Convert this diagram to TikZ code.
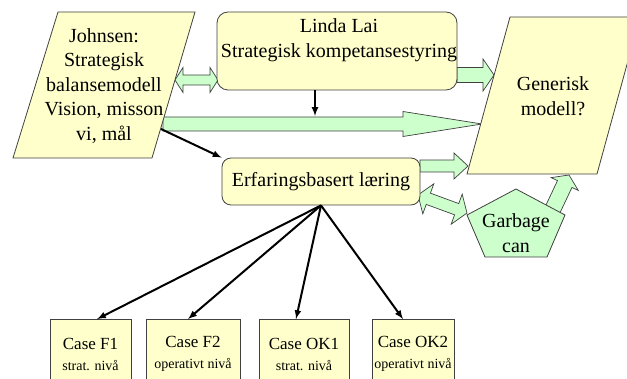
\documentclass[tikz,border=0pt]{standalone}
\usepackage{fontspec}
\setmainfont{Liberation Serif}
\usetikzlibrary{calc}
\definecolor{paleyellow}{RGB}{255,255,204}
\definecolor{palegreen}{RGB}{204,255,204}
\newcommand{\casesub}{\fontsize{14}{16}\selectfont}
% from, to, shaft half width, head half width, head length
\newcommand{\greenarrow}[5]{%
  \coordinate (ba) at ($(#2)!#5!(#1)$);
  \draw[garrow] ($(#1)!#3!90:(#2)$) -- ($(ba)!#3!90:(#2)$) -- ($(ba)!#4!90:(#2)$) -- (#2)
    -- ($(ba)!#4!-90:(#2)$) -- ($(ba)!#3!-90:(#2)$) -- ($(#1)!#3!-90:(#2)$) -- cycle;}
\newcommand{\greendblarrow}[5]{%
  \coordinate (ba) at ($(#2)!#5!(#1)$);
  \coordinate (bb) at ($(#1)!#5!(#2)$);
  \draw[garrow] (#1) -- ($(bb)!#4!90:(#2)$) -- ($(bb)!#3!90:(#2)$) -- ($(ba)!#3!90:(#2)$)
    -- ($(ba)!#4!90:(#2)$) -- (#2) -- ($(ba)!#4!-90:(#2)$) -- ($(ba)!#3!-90:(#2)$)
    -- ($(bb)!#3!-90:(#2)$) -- ($(bb)!#4!-90:(#2)$) -- cycle;}
\begin{document}
\begin{tikzpicture}[x=1pt,y=-1pt,
    font=\fontsize{20}{24.5}\selectfont,
    ybox/.style={draw=black!75,line width=0.8pt,fill=paleyellow},
    rbox/.style={ybox,rounded corners=11pt,inner sep=0pt},
    cbox/.style={ybox,minimum height=69pt,inner sep=0pt,align=center,font=\fontsize{17}{21}\selectfont},
    gshape/.style={draw=black!75,line width=0.8pt,fill=palegreen},
    garrow/.style={draw=black!75,line width=0.7pt,fill=palegreen,line join=miter},
    conn/.style={-latex,line width=2pt}]

            \clip (0,0) rectangle (627,379);

            \coordinate (j1) at (175,80);
            \coordinate (l1) at (218,80);
            \coordinate (l2) at (457,75);
            \coordinate (g1) at (494,75);
            \coordinate (j2) at (163,124);
            \coordinate (g2) at (482,124);
            \coordinate (e1) at (420,166);
            \coordinate (g3) at (468,166);
            \coordinate (e2) at (418,195);
            \coordinate (gc1) at (467,213);
            \coordinate (gc2) at (552,211);
            \coordinate (g4) at (569,175);
            \coordinate (jo) at (161,129);
            \coordinate (lt) at (315,116);

            \greendblarrow{j1}{l1}{5pt}{12.5pt}{8pt}
            \greenarrow{l2}{g1}{7.5pt}{16pt}{11pt}
            \greenarrow{j2}{g2}{7pt}{12.5pt}{79pt}
            \greenarrow{e1}{g3}{6pt}{13pt}{14pt}
            \greendblarrow{e2}{gc1}{6pt}{16pt}{11pt}
            \greenarrow{gc2}{g4}{8pt}{15pt}{10pt}

            \draw[ybox] (58,12) -- (195,12) -- (152,158) -- (13,158) -- cycle;
            \node[align=center] (johnsen) at (104,86) {Johnsen:\\Strategisk\\balansemodell\\Vision, misson\\vi, mål};

            \draw[ybox] (510,17) -- (640,17) -- (597,174) -- (467,174) -- cycle;
            \node[align=center] (generisk) at (553,96) {Generisk\\modell?};

            \node[rbox,minimum width=240pt,minimum height=78pt] (linda) at (337,51) {};
            \node[align=center] (lindatxt) at (339,40) {Linda Lai\\Strategisk kompetansestyring};

            \node[rbox,rounded corners=9pt,minimum width=198pt,minimum height=47pt] (erf) at (321,181.5) {Erfaringsbasert læring};

            \draw[gshape] (516,189) -- (565,215) -- (547,257) -- (485,257) -- (467,215) -- cycle;
            \node[align=center] (garbage) at (516,233) {Garbage\\can};

            \node[cbox,minimum width=81pt] (caseF1) at (90.5,354) {Case F1\\{\casesub strat. nivå}};
            \node[cbox,minimum width=94pt] (caseF2) at (193,354) {Case F2\\{\casesub operativt nivå}};
            \node[cbox,minimum width=90pt] (caseOK1) at (304,354) {Case OK1\\{\casesub strat. nivå}};
            \node[cbox,minimum width=82pt] (caseOK2) at (413,354) {Case OK2\\{\casesub operativt nivå}};

            \draw[conn] ([xshift=-22pt]linda.south) -- (lt);
            \draw[conn] (jo) -- (erf.north west);
            \draw[conn] (erf.south) -- ([xshift=6.5pt]caseF1.north);
            \draw[conn] (erf.south) -- ([xshift=-5pt]caseF2.north);
            \draw[conn] (erf.south) -- ([xshift=-8pt]caseOK1.north);
            \draw[conn] (erf.south) -- ([xshift=-10pt]caseOK2.north);
        \end{tikzpicture}
\end{document}
